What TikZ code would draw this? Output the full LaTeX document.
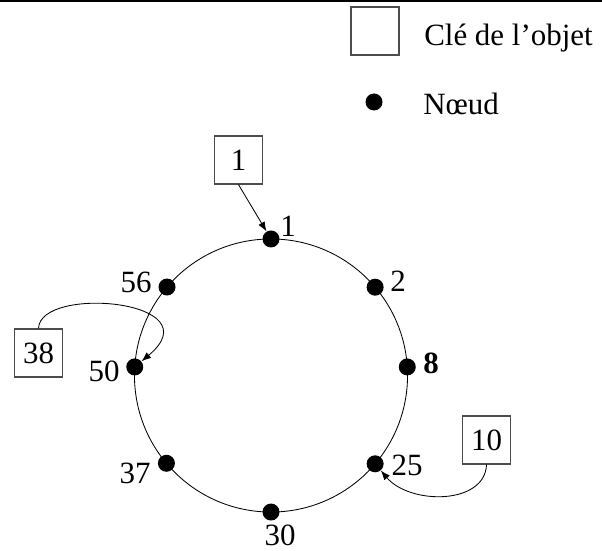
\documentclass[tikz,border=0pt]{standalone}
\usepackage{fontspec}
\setmainfont{Liberation Serif}
\usetikzlibrary{calc,arrows.meta}

\begin{document}
\begin{tikzpicture}[x=0.025cm,y=-0.025cm,
		dot/.style={circle,fill=black,inner sep=0pt,minimum size=0.425cm},
		keybox/.style={draw=black!70,line width=0.9pt,inner sep=0pt,minimum size=1.2cm,font=\fontsize{22}{26}\selectfont},
		lab/.style={inner sep=0pt,font=\fontsize{22}{26}\selectfont},
		keyarrow/.style={-{Latex[length=2.4mm,width=1.8mm]},line width=0.6pt}]
		%%%%% START %%%%%
		\useasboundingbox (0,0) rectangle (602,550);
		\draw[line width=1.4pt] (0,1) -- (602,1);
		
		% legend
		\node[keybox] (legkey) at (375,31) {};
		\node[lab,anchor=base west] (legkeytxt) at (424,46) {Clé de l’objet};
		\node[dot] (legdot) at (374,102) {};
		\node[lab,anchor=base west] (legdottxt) at (423,115) {Nœud};
		
		% ring
		\coordinate (c) at (271,375.5);
		\draw[line width=0.6pt] (c) circle (3.4125cm);
		
		\node[dot] (n1) at ([shift={(90:3.4125cm)}]c) {};
		\node[dot] (n2) at ([shift={(40.3:3.4125cm)}]c) {};
		\node[dot] (n8) at ([shift={(3.6:3.4125cm)}]c) {};
		\node[dot] (n25) at ([shift={(-40.3:3.4125cm)}]c) {};
		\node[dot] (n30) at ([shift={(-90:3.4125cm)}]c) {};
		\node[dot] (n37) at ([shift={(220:3.4125cm)}]c) {};
		\node[dot] (n50) at ([shift={(176.4:3.4125cm)}]c) {};
		\node[dot] (n56) at ([shift={(139.6:3.4125cm)}]c) {};
		
		\node[lab] (l1) at (288,226) {1};
		\node[lab] (l2) at (398,281) {2};
		\node[lab] (l8) at (431,363) {\textbf{8}};
		\node[lab] (l25) at (407,465) {25};
		\node[lab] (l30) at (280,535) {30};
		\node[lab] (l37) at (135,473) {37};
		\node[lab] (l50) at (104,371) {50};
		\node[lab] (l56) at (136,282) {56};
		
		% keys
		\node[keybox] (k1) at (238.5,160) {1};
		\node[keybox] (k38) at (38.5,353) {38};
		\node[keybox] (k10) at (486.5,440) {10};
		
		\draw[keyarrow] (k1.south) -- (n1);
		\draw[keyarrow] (k38.north) .. controls (40,285) and (215,300) .. (n50);
		\draw[keyarrow] (k10.south) .. controls (485,505) and (410,505) .. (n25);
		%%%%% END %%%%%
	\end{tikzpicture}
\end{document}
